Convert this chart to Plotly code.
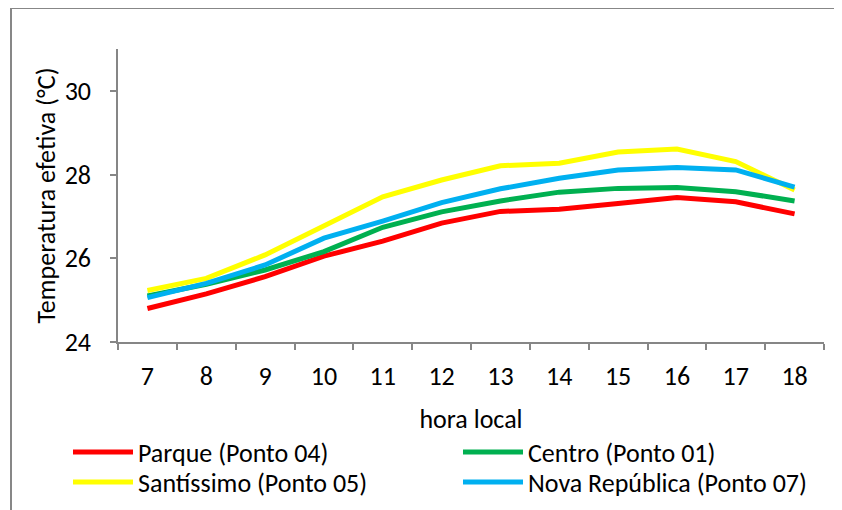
import plotly.graph_objects as go

hours = ["7", "8", "9", "10", "11", "12", "13", "14", "15", "16", "17", "18"]
parque = [24.80, 25.15, 25.56, 26.05, 26.41, 26.84, 27.12, 27.17, 27.31, 27.45, 27.35, 27.06]
centro = [25.10, 25.38, 25.72, 26.16, 26.74, 27.11, 27.37, 27.58, 27.67, 27.69, 27.59, 27.37]
santissimo = [25.23, 25.52, 26.08, 26.77, 27.47, 27.87, 28.21, 28.27, 28.54, 28.61, 28.31, 27.63]
nova = [25.06, 25.40, 25.84, 26.48, 26.89, 27.33, 27.66, 27.91, 28.11, 28.17, 28.11, 27.70]

names = ["Parque (Ponto 04)", "Centro (Ponto 01)", "Santíssimo (Ponto 05)", "Nova República (Ponto 07)"]
colors = ["#FF0000", "#00B050", "#FFFF00", "#00B0F0"]
series = [parque, centro, santissimo, nova]
legends = ["legend", "legend", "legend2", "legend2"]

FONT = "Carlito, Calibri, Lato, sans-serif"
FS = 26

fig = go.Figure()
for i in range(4):
    fig.add_trace(go.Scatter(
        x=hours, y=series[i], mode="lines", name=names[i],
        line=dict(color=colors[i], width=5),
        legend=legends[i],
    ))

# page body has an 8px margin: work in reference pixels minus 8
O = 8
W, H = 834, 502
L, R, T, B = 118 - O, W - (824 - O), 49 - O, H - (342 - O)
pw = W - L - R
ph = H - T - B

def px(x):
    return (x - O - L) / pw

def py(y):
    return (H - B - (y - O)) / ph

fig.update_layout(
    width=W, height=H,
    margin=dict(l=L, r=R, t=T, b=B, autoexpand=False),
    paper_bgcolor="white", plot_bgcolor="white",
    font=dict(family=FONT, size=FS, color="black"),
    xaxis=dict(
        type="category", range=[-0.5, 11.5], showline=True, linecolor="#868686", linewidth=1.5,
        ticks="outside", tickson="boundaries", ticklen=6, tickcolor="#868686", tickwidth=1.5,
        showgrid=False, zeroline=False, ticklabelstandoff=10, automargin=False,
        title=dict(text="hora local", standoff=19, font=dict(size=FS)),
    ),
    yaxis=dict(
        range=[24, 31], dtick=2, tick0=24, showline=True, linecolor="#868686", linewidth=1.5,
        ticks="outside", ticklen=6, tickcolor="#868686", tickwidth=1.5,
        showgrid=False, zeroline=False, ticklabelstandoff=14, automargin=False,
        title=dict(text="Temperatura efetiva (°C)", standoff=2, font=dict(size=FS)),
    ),
    legend=dict(orientation="h", x=px(68), y=py(452), xanchor="left", yanchor="middle",
                entrywidth=315, entrywidthmode="pixels", itemwidth=60,
                font=dict(size=FS), bgcolor="rgba(0,0,0,0)"),
    legend2=dict(orientation="h", x=px(68), y=py(482), xanchor="left", yanchor="middle",
                 entrywidth=315, entrywidthmode="pixels", itemwidth=60,
                 font=dict(size=FS), bgcolor="rgba(0,0,0,0)"),
    shapes=[
        dict(type="line", xref="paper", yref="paper", x0=px(11), y0=py(8), x1=px(900), y1=py(8),
             line=dict(color="#878787", width=2)),
        dict(type="line", xref="paper", yref="paper", x0=px(11), y0=py(8), x1=px(11), y1=py(600),
             line=dict(color="#878787", width=2)),
    ],
)

fig.write_html("out.html")
